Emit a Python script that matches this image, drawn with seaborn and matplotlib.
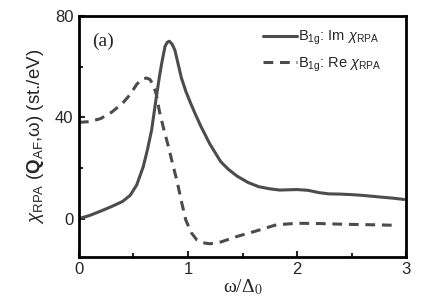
import numpy as np
import pandas as pd
import matplotlib
matplotlib.use("Agg")
import matplotlib.pyplot as plt
import seaborn as sns
from matplotlib.ticker import MultipleLocator

# values
w_im = [0.0, 0.1, 0.2, 0.3, 0.4, 0.47, 0.53, 0.59, 0.63, 0.667, 0.71, 0.74, 0.76,
        0.79, 0.81, 0.83, 0.855, 0.88, 0.91, 0.94, 0.98, 1.02, 1.07, 1.12, 1.2, 1.3,
        1.37, 1.45, 1.55, 1.65, 1.75, 1.84, 2.0, 2.1, 2.2, 2.29, 2.4, 2.5, 2.6, 2.75,
        2.88, 2.98]
im_chi = [0.0, 1.3, 3.0, 4.8, 6.8, 9.2, 13.3, 20.5, 27.5, 35.0, 48.0, 56.5, 61.5,
          68.0, 69.6, 70.0, 68.8, 66.5, 61.0, 55.5, 50.3, 46.0, 41.0, 36.3, 29.5, 22.5,
          19.5, 16.8, 14.3, 12.6, 11.8, 11.3, 11.5, 11.2, 10.3, 9.8, 9.7, 9.5, 9.2, 8.6,
          8.1, 7.6]

w_re = [0.0, 0.1, 0.2, 0.3, 0.4, 0.47, 0.53, 0.575, 0.62, 0.65, 0.68, 0.71, 0.74,
        0.78, 0.82, 0.86, 0.9, 0.94, 0.98, 1.03, 1.08, 1.14, 1.2, 1.3, 1.45, 1.62,
        1.81, 2.0, 2.2, 2.44, 2.7, 2.9]
re_chi = [38.0, 38.3, 39.5, 42.0, 45.5, 49.0, 53.0, 55.0, 55.5, 55.0, 53.0, 49.0, 42.0,
          35.0, 28.6, 21.5, 14.8, 6.8, -0.5, -5.5, -8.3, -9.5, -9.9, -9.2, -7.0, -4.9,
          -2.4, -1.8, -1.9, -2.2, -2.4, -2.6]

df_im = pd.DataFrame({"w": w_im, "chi": im_chi})
df_re = pd.DataFrame({"w": w_re, "chi": re_chi})

sns.set_style("ticks")
plt.rcParams["font.family"] = ["Liberation Sans", "DejaVu Sans"]
plt.rcParams["mathtext.fontset"] = "custom"
plt.rcParams["mathtext.rm"] = "Liberation Sans"
plt.rcParams["mathtext.it"] = "Liberation Sans:italic"
plt.rcParams["mathtext.bf"] = "Liberation Sans:bold"

fig = plt.figure(figsize=(4.24, 3.06), dpi=100)
ax = fig.add_axes([0.186, 0.161, 0.772, 0.787])

col = "#4c4c4c"
sns.lineplot(data=df_im, x="w", y="chi", ax=ax, color=col, lw=2.2,
             label=r"B$_{\mathrm{1g}}$: Im $\chi_{\mathrm{RPA}}$")
sns.lineplot(data=df_re, x="w", y="chi", ax=ax, color=col, lw=2.2,
             linestyle=(0, (3.2, 2.2)),
             label=r"B$_{\mathrm{1g}}$: Re $\chi_{\mathrm{RPA}}$")

ax.set_xlim(0, 3)
ax.set_ylim(-15, 80)
ax.xaxis.set_major_locator(MultipleLocator(1))
ax.xaxis.set_minor_locator(MultipleLocator(0.5))
ax.yaxis.set_major_locator(MultipleLocator(40))
ax.yaxis.set_minor_locator(MultipleLocator(20))
ax.tick_params(which="both", direction="in", labelsize=12, width=1.5, top=False, right=False)
ax.tick_params(which="major", length=4, pad=4)
ax.tick_params(which="minor", length=3)
for s in ax.spines.values():
    s.set_linewidth(2)
    s.set_color("black")

ax.set_xlabel(r"ω/Δ$_{\mathrm{0}}$", family="Liberation Serif", math_fontfamily="stix",
              fontsize=14, labelpad=0)
ax.set_ylabel(r"$\chi_{\mathrm{RPA}}$ ($\mathbf{Q}_{\mathrm{AF}}$,ω) (st./eV)",
              fontsize=13.5, labelpad=6)
ax.text(0.04, 0.93, "(a)", transform=ax.transAxes, family="Liberation Serif", fontsize=14,
        va="top")

leg = ax.legend(loc="upper right", bbox_to_anchor=(0.965, 1.0), frameon=False,
                fontsize=10.5, handlelength=2.3, handletextpad=0.1, borderaxespad=0.5,
                borderpad=0.4, labelspacing=0.55)

fig.savefig("out.png", dpi=100)
